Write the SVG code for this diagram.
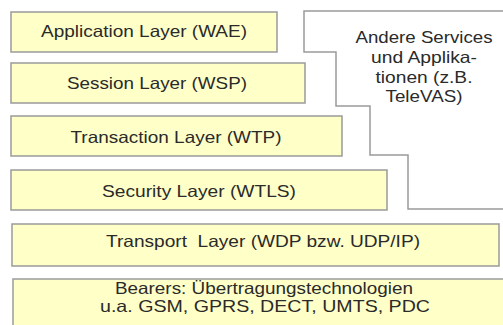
<svg xmlns="http://www.w3.org/2000/svg" width="503" height="325" viewBox="0 0 503 325">
<style>
.box{fill:#ffffc8;stroke:#9a9a9a;stroke-width:1.5}
.other{fill:#ffffff;stroke:#9a9a9a;stroke-width:1.5}
text{font-family:"Liberation Sans",Arial,sans-serif;font-size:16.5px;fill:#2a2a2a;text-anchor:middle}
</style>
<rect width="503" height="325" fill="#ffffff"/>
<g id="other-services">
<path class="other" d="M503,11 H304 V52 H336 V106 H370 V155 H408 V209 H503"/>
<text x="424" y="43" textLength="137" lengthAdjust="spacingAndGlyphs">Andere Services</text>
<text x="424" y="63" textLength="106" lengthAdjust="spacingAndGlyphs">und Applika-</text>
<text x="424" y="83" textLength="97" lengthAdjust="spacingAndGlyphs">tionen (z.B.</text>
<text x="424" y="102" textLength="77" lengthAdjust="spacingAndGlyphs">TeleVAS)</text>
</g>
<g id="application">
<rect class="box" x="11" y="12" width="266" height="40"/>
<text x="144" y="37" textLength="206" lengthAdjust="spacingAndGlyphs">Application Layer (WAE)</text>
</g>
<g id="session">
<rect class="box" x="11" y="63" width="294" height="40"/>
<text x="157" y="89" textLength="180" lengthAdjust="spacingAndGlyphs">Session Layer (WSP)</text>
</g>
<g id="transaction">
<rect class="box" x="11" y="116" width="331" height="40"/>
<text x="176" y="143" textLength="211" lengthAdjust="spacingAndGlyphs">Transaction Layer (WTP)</text>
</g>
<g id="security">
<rect class="box" x="11" y="170" width="376" height="40"/>
<text x="199" y="197" textLength="194" lengthAdjust="spacingAndGlyphs">Security Layer (WTLS)</text>
</g>
<g id="transport">
<rect class="box" x="12" y="224" width="487" height="42"/>
<text x="263" y="247" textLength="314" lengthAdjust="spacingAndGlyphs" xml:space="preserve">Transport  Layer (WDP bzw. UDP/IP)</text>
</g>
<g id="bearers">
<rect class="box" x="13" y="279" width="492" height="52"/>
<text x="264" y="294" textLength="298" lengthAdjust="spacingAndGlyphs">Bearers: Übertragungstechnologien</text>
<text x="265" y="312" textLength="330" lengthAdjust="spacingAndGlyphs">u.a. GSM, GPRS, DECT, UMTS, PDC</text>
</g>
<g id="connectors"></g>
</svg>
